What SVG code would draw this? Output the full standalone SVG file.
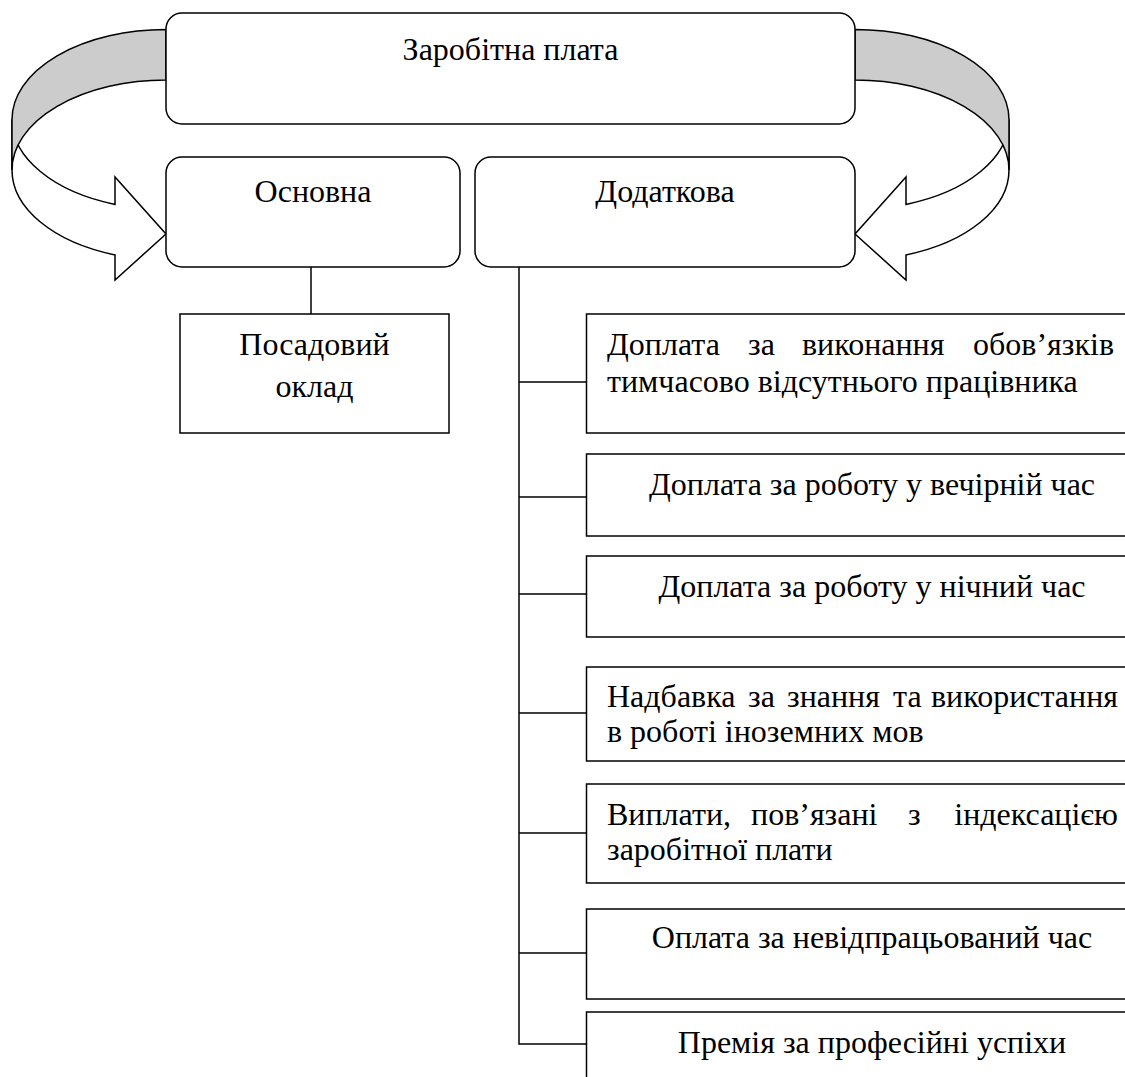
<svg xmlns="http://www.w3.org/2000/svg" width="1125" height="1077" viewBox="0 0 1125 1077">
<defs>
<style>
.box{fill:#fff;stroke:#000;stroke-width:1.5}
.ln{fill:none;stroke:#000;stroke-width:1.5}
.front{fill:#fff;stroke:#000;stroke-width:1.5;stroke-linejoin:miter}
.back{fill:#cccccc;stroke:#000;stroke-width:1.5}
text{font-family:"Liberation Serif","Times New Roman",serif;font-size:32px;fill:#000}
.c{text-anchor:middle}
.e{text-anchor:end}
</style>
<g id="curved-arrow">
<path class="front" d="M12,119.5 L12,170 A154,90 0 0 0 115,254.9 L115,280 L166,234 L115,177 L115,204.4 A154,90 0 0 1 12,119.5 Z"/>
<path class="back" d="M166,29.5 A154,90 0 0 0 12,119.5 L12,170 A154,90 0 0 1 166,80 Z"/>
</g>
</defs>
<rect width="1125" height="1077" fill="#fff"/>
<g id="arrow-left"><use href="#curved-arrow"/></g>
<g id="arrow-right"><use href="#curved-arrow" transform="translate(1021,0) scale(-1,1)"/></g>
<g id="connectors">
<path class="ln" d="M311,267 V314"/>
<path class="ln" d="M519,267 V1044 H586.5"/>
<path class="ln" d="M519,382 H586.5 M519,497 H586.5 M519,594 H586.5 M519,713 H586.5 M519,833 H586.5 M519,953 H586.5"/>
</g>
<g id="node-zarobitna">
<rect class="box" x="166" y="13" width="689" height="111" rx="16"/>
<text class="c" x="510.5" y="60">Заробітна плата</text>
</g>
<g id="node-osnovna">
<rect class="box" x="166" y="157" width="294" height="110" rx="16"/>
<text class="c" x="313" y="202">Основна</text>
</g>
<g id="node-dodatkova">
<rect class="box" x="475" y="157" width="380" height="110" rx="16"/>
<text class="c" x="665" y="202">Додаткова</text>
</g>
<g id="node-posadovyi">
<rect class="box" x="180" y="314" width="269" height="119"/>
<text class="c" x="314.5" y="355">Посадовий</text>
<text class="c" x="314.5" y="397">оклад</text>
</g>
<g id="node-1">
<rect class="box" x="586.5" y="314" width="560" height="119"/>
<text x="607" y="355">Доплата</text>
<text x="748" y="355">за</text>
<text x="802" y="355">виконання</text>
<text class="e" x="1114" y="355">обов’язків</text>
<text x="607" y="392">тимчасово відсутнього працівника</text>
</g>
<g id="node-2">
<rect class="box" x="586.5" y="454" width="560" height="82"/>
<text class="c" x="872" y="495">Доплата за роботу у вечірній час</text>
</g>
<g id="node-3">
<rect class="box" x="586.5" y="556" width="560" height="81"/>
<text class="c" x="872" y="597">Доплата за роботу у нічний час</text>
</g>
<g id="node-4">
<rect class="box" x="586.5" y="667" width="560" height="94"/>
<text x="607" y="707">Надбавка</text>
<text x="748" y="707">за</text>
<text x="787" y="707">знання</text>
<text x="893" y="707">та</text>
<text class="e" x="1118" y="707">використання</text>
<text x="607" y="742">в роботі іноземних мов</text>
</g>
<g id="node-5">
<rect class="box" x="586.5" y="784" width="560" height="99"/>
<text x="607" y="825">Виплати,</text>
<text x="751" y="825">пов’язані</text>
<text x="908" y="825">з</text>
<text class="e" x="1118" y="825">індексацією</text>
<text x="607" y="860">заробітної плати</text>
</g>
<g id="node-6">
<rect class="box" x="586.5" y="909" width="560" height="90"/>
<text class="c" x="872" y="948">Оплата за невідпрацьований час</text>
</g>
<g id="node-7">
<rect class="box" x="586.5" y="1012" width="560" height="100"/>
<text class="c" x="872" y="1053">Премія за професійні успіхи</text>
</g>
</svg>
